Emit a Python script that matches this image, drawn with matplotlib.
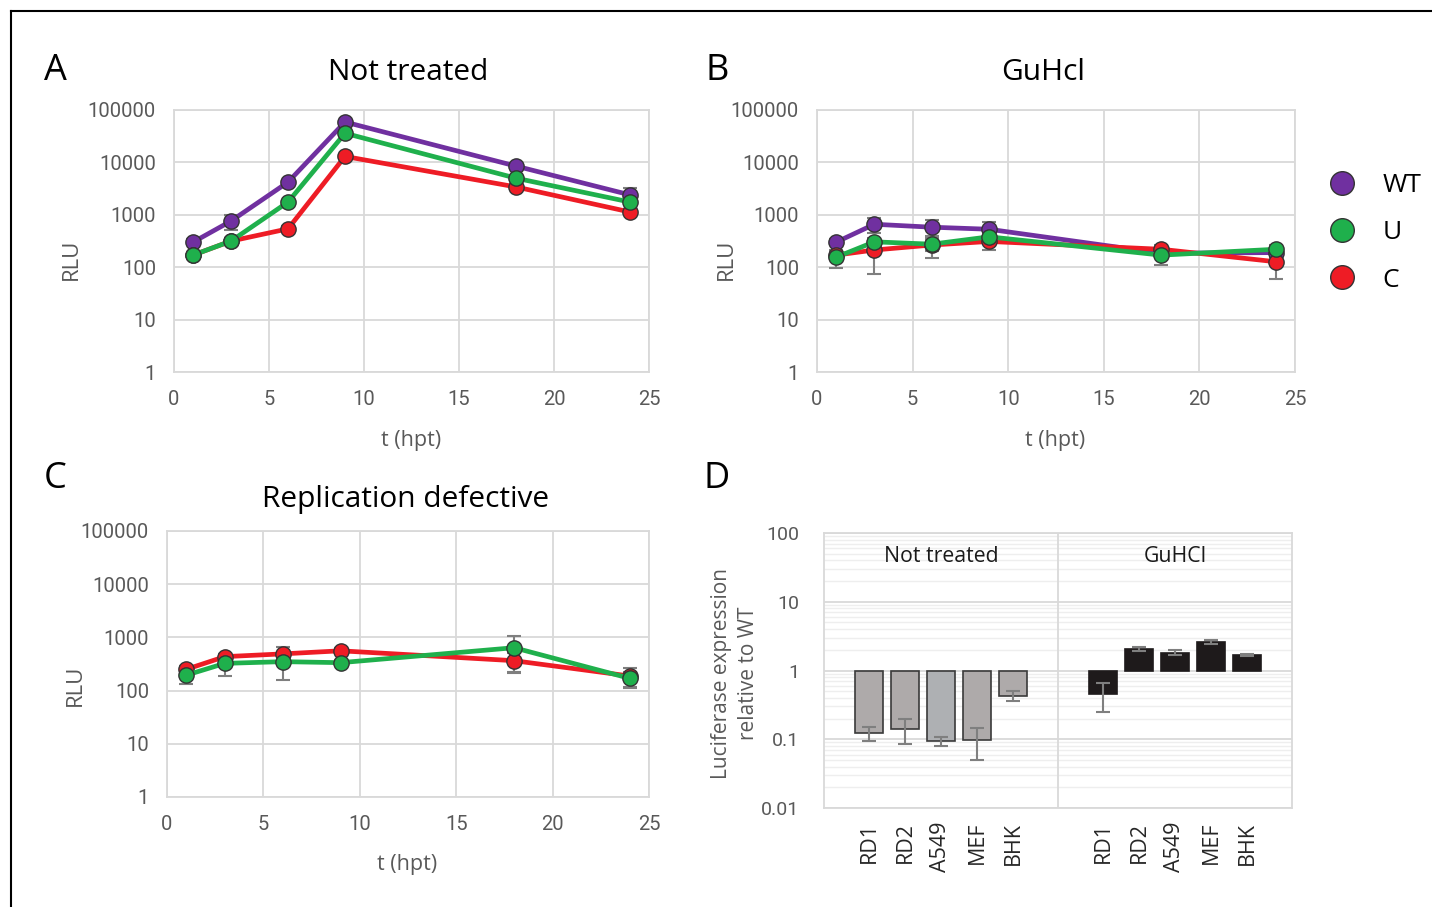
import numpy as np
import matplotlib
matplotlib.use("Agg")
import matplotlib.pyplot as plt
from matplotlib.lines import Line2D
from matplotlib.ticker import FixedLocator, NullFormatter, LogLocator

plt.rcParams["font.family"] = ["Open Sans", "DejaVu Sans"]

# time points (hours post transfection)
t = [1, 3, 6, 9, 18, 24]

# A: not treated
a_wt = [300, 760, 4200, 59000, 8500, 2400]
a_wt_err = [40, 250, 300, 3000, 600, 840]
a_u = [170, 315, 1750, 36000, 5000, 1750]
a_u_err = [20, 40, 150, 2000, 400, 200]
a_c = [170, 315, 540, 13000, 3400, 1130]
a_c_err = [20, 40, 60, 1000, 300, 100]

# B: GuHCl
b_wt = [300, 660, 580, 530, 185, 190]
b_wt_err = [40, 210, 220, 210, 30, 30]
b_u = [155, 305, 275, 380, 170, 220]
b_u_err = [58, 60, 123, 80, 60, 40]
b_c = [170, 213, 265, 310, 220, 127]
b_c_err = [30, 139, 60, 100, 40, 68]

# C: replication defective
c_u = [195, 325, 350, 335, 640, 170]
c_u_err = [64, 135, 192, 40, 430, 52]
c_c = [251, 435, 490, 560, 365, 188]
c_c_err = [40, 60, 160, 60, 145, 75]

# D: luciferase expression relative to WT
cells = ["RD1", "RD2", "A549", "MEF", "BHK"]
d_nt = [0.123, 0.143, 0.094, 0.098, 0.43]
d_nt_err = [0.03, 0.057, 0.013, 0.048, 0.074]
d_gu = [0.455, 2.07, 1.81, 2.6, 1.69]
d_gu_err = [0.21, 0.15, 0.15, 0.2, 0.05]

PURPLE = "#7030a0"
GREEN = "#1fb04c"
RED = "#ee1c25"
GRID = "#d9d9d9"
TICK = "#595959"
ERR = "#7f7f7f"

W, H = 1432, 907
fig = plt.figure(figsize=(W / 100, H / 100), dpi=100)


def px_axes(x0, y0, x1, y1):
    """axes from pixel box (top-left origin)"""
    return fig.add_axes([x0 / W, 1 - y1 / H, (x1 - x0) / W, (y1 - y0) / H])


def line_panel(ax, series):
    for vals, errs, col in series:
        ax.errorbar(t, vals, yerr=errs, fmt="none", ecolor=ERR, elinewidth=1.5,
                    capsize=5, capthick=1.5, zorder=2)
    for vals, errs, col in series:
        ax.plot(t, vals, color=col, lw=3.4, marker="o", ms=11,
                mfc=col, mec="#333333", mew=1.0, zorder=3)
    ax.set_yscale("log")
    ax.set_ylim(1, 100000)
    ax.set_xlim(0, 25)
    ax.yaxis.set_major_locator(FixedLocator([1, 10, 100, 1000, 10000, 100000]))
    ax.yaxis.set_minor_locator(FixedLocator([]))
    ax.set_yticklabels(["1", "10", "100", "1000", "10000", "100000"])
    ax.set_xticks([0, 5, 10, 15, 20, 25])
    ax.grid(True, color=GRID, lw=1.3)
    ax.set_axisbelow(True)
    for s in ax.spines.values():
        s.set_color(GRID)
        s.set_linewidth(1.3)
    ax.tick_params(length=0, labelsize=14.5, colors=TICK, pad=13)
    for lab in ax.get_xticklabels() + ax.get_yticklabels():
        lab.set_fontfamily(["Roboto", "DejaVu Sans"])
    ax.set_ylabel("RLU", fontsize=16, color=TICK)
    ax.set_xlabel("t (hpt)", fontsize=15.5, color=TICK)


axA = px_axes(174, 110, 649, 372)
line_panel(axA, [(a_wt, a_wt_err, PURPLE), (a_c, a_c_err, RED), (a_u, a_u_err, GREEN)])
axA.yaxis.set_label_coords(-0.194, 0.43)
axA.xaxis.set_label_coords(0.499, -0.22)

axB = px_axes(817, 110, 1295, 372)
line_panel(axB, [(b_wt, b_wt_err, PURPLE), (b_c, b_c_err, RED), (b_u, b_u_err, GREEN)])
axB.yaxis.set_label_coords(-0.167, 0.43)
axB.xaxis.set_label_coords(0.498, -0.22)

axC = px_axes(167, 531, 649, 797)
line_panel(axC, [(c_c, c_c_err, RED), (c_u, c_u_err, GREEN)])
axC.yaxis.set_label_coords(-0.168, 0.42)
axC.xaxis.set_label_coords(0.498, -0.215)

# D: bar chart
axD = px_axes(824, 533, 1292, 808)
x_nt = np.arange(len(cells)) + 1.25
x_gu = np.arange(len(cells)) + 7.75
nt_colors = ["#aeaaaa", "#aeaaaa", "#aeb0b3", "#aeaaaa", "#aeaaaa"]
axD.bar(x_nt, np.array(d_nt) - 1, bottom=1, width=0.8, color=nt_colors,
        edgecolor="#3a3a3a", lw=1.2, zorder=2)
axD.bar(x_gu, np.array(d_gu) - 1, bottom=1, width=0.8, color="#1e1a1b",
        edgecolor="#1e1a1b", lw=1.2, zorder=2)
axD.errorbar(x_nt, d_nt, yerr=d_nt_err, fmt="none", ecolor=ERR, elinewidth=1.5,
             capsize=5, capthick=1.5, zorder=3)
axD.errorbar(x_gu, d_gu, yerr=d_gu_err, fmt="none", ecolor=ERR, elinewidth=1.5,
             capsize=5, capthick=1.5, zorder=3)
axD.set_yscale("log")
axD.set_ylim(0.01, 100)
axD.set_xlim(0, 13)
axD.yaxis.set_major_locator(FixedLocator([0.01, 0.1, 1, 10, 100]))
axD.set_yticklabels(["0.01", "0.1", "1", "10", "100"])
axD.yaxis.set_minor_locator(LogLocator(base=10, subs=np.arange(2, 10)))
axD.yaxis.set_minor_formatter(NullFormatter())
axD.grid(True, which="major", axis="y", color=GRID, lw=1.3)
axD.grid(True, which="minor", axis="y", color="#eeeeee", lw=1.0)
axD.set_axisbelow(True)
axD.axvline(6.5, color=GRID, lw=1.3, zorder=1)
for s in axD.spines.values():
    s.set_color(GRID)
    s.set_linewidth(1.3)
axD.set_xticks(np.concatenate([x_nt, x_gu]))
axD.set_xticklabels(cells + cells, rotation=90, fontsize=15.5, color="#262626")
axD.tick_params(axis="x", length=0, pad=10)
axD.tick_params(axis="y", which="both", length=0, labelsize=14, colors=TICK, pad=18)
for lab in axD.get_yticklabels():
    lab.set_fontfamily(["Roboto", "DejaVu Sans"])
axD.set_ylabel("Luciferase expression\nrelative to WT", fontsize=15, color=TICK,
               linespacing=1.4)
axD.yaxis.set_label_coords(-0.138, 0.49)
axD.text(3.25, 45, "Not treated", ha="center", va="center", fontsize=15.3, color="#1a1a1a")
axD.text(9.75, 45, "GuHCl", ha="center", va="center", fontsize=15.3, color="#1a1a1a")

# titles and panel letters
fig.text(408 / W, 1 - 72 / H, "Not treated", ha="center", va="center", fontsize=21.5)
fig.text(1043 / W, 1 - 72 / H, "GuHcl", ha="center", va="center", fontsize=21.5)
fig.text(406 / W, 1 - 500 / H, "Replication defective", ha="center", va="center", fontsize=21.5)
for letter, (lx, ly) in {"A": (55, 71), "B": (717, 71), "C": (55, 479), "D": (717, 479)}.items():
    fig.text(lx / W, 1 - ly / H, letter, ha="center", va="center", fontsize=26)

# legend
handles = [Line2D([], [], ls="none", marker="o", ms=17, mfc=c, mec="#333333", mew=1.0)
           for c in (PURPLE, GREEN, RED)]
fig.legend(handles, ["WT", "U", "C"], loc="upper left",
           bbox_to_anchor=(1302 / W, 1 - 149 / H), frameon=False, fontsize=19,
           handletextpad=0.95, labelspacing=0.85, handlelength=1.2)

# frame lines (top and left)
fig.add_artist(Line2D([11 / W, 1], [1 - 11 / H, 1 - 11 / H], color="black", lw=1.5))
fig.add_artist(Line2D([11 / W, 11 / W], [0, 1 - 11 / H], color="black", lw=1.5))

fig.savefig("out.png", dpi=100)
